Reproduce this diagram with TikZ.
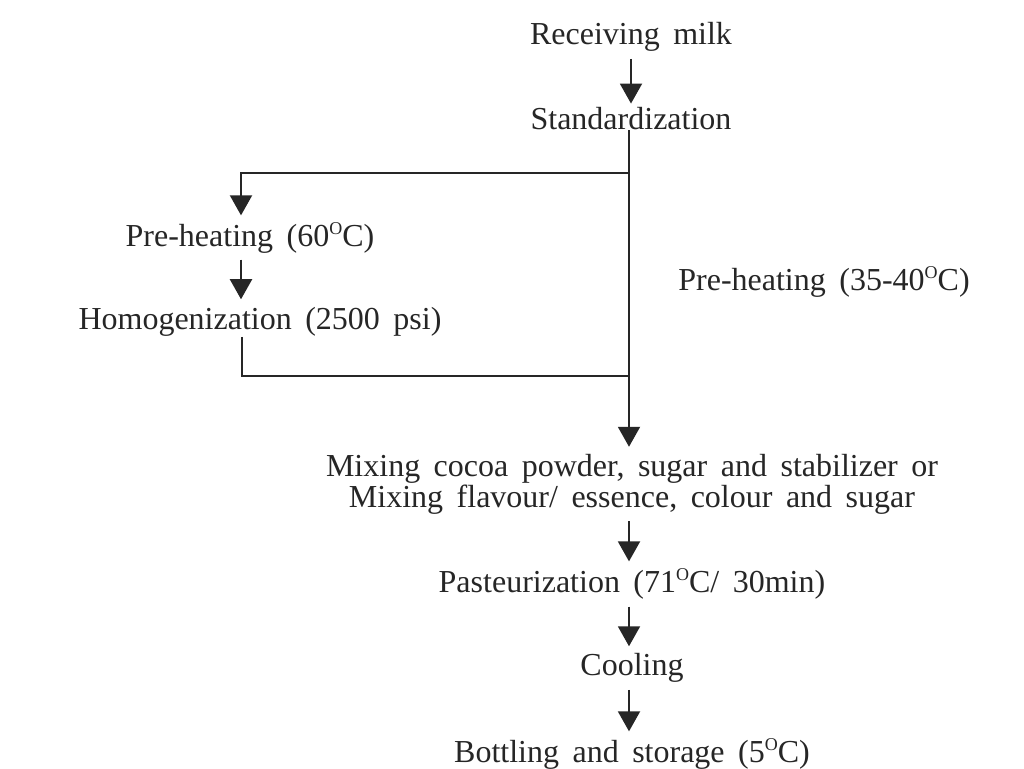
\documentclass[tikz,border=0pt]{standalone}
\usepackage{fontspec}
\setmainfont{Liberation Serif}
\usetikzlibrary{arrows.meta}
\newcommand{\degO}{\raisebox{0.38em}{\fontsize{18}{18}\selectfont O}}
\newcommand{\lblfont}{\fontsize{32}{31}\selectfont\spaceskip=13.5pt\relax}
\begin{document}
\begin{tikzpicture}[x=1pt,y=-1pt,
  lbl/.style={inner sep=0pt,font=\lblfont,text=black!85},
  flow/.style={line width=2pt,draw=black!85,-{Triangle[width=22pt,length=20pt]}},
  wire/.style={line width=2pt,draw=black!85}]
\useasboundingbox[fill=white] (0,0) rectangle (1024,768);
\node[lbl] (rec) at (631,37) {Receiving milk};
\node[lbl] (std) at (631,119) {Standardization};
\node[lbl] (ph60) at (250,238) {Pre-heating (60\degO C)};
\node[lbl] (homo) at (260,322) {Homogenization (2500 psi)};
\node[lbl] (ph35) at (824,282) {Pre-heating (35-40\degO C)};
\node[lbl,align=center] (mix) at (632,484) {Mixing cocoa powder, sugar and stabilizer or\\[0pt]Mixing flavour/ essence, colour and sugar};
\node[lbl] (past) at (632,584) {Pasteurization (71\degO C/ 30min)};
\node[lbl] (cool) at (632,668) {Cooling};
\node[lbl] (bott) at (632,754) {Bottling and storage (5\degO C)};
\coordinate (mainx) at (629,0);
\coordinate (leftx) at (241,0);
\coordinate (j1) at (629,173);
\coordinate (j2) at (629,376);
\coordinate (l2) at (242,376);
% main flow
\draw[flow,shorten <=7pt,shorten >=4pt] (rec.south) -- (std.north);
\draw[flow,shorten >=7pt] (std.south -| mainx) -- (mix.north -| mainx);
% side branch
\draw[flow,shorten >=7pt] (j1) -| (ph60.north -| leftx);
\draw[flow,shorten <=6pt,shorten >=8pt] (ph60.south -| leftx) -- (homo.north -| leftx);
\draw[wire] (homo.south -| l2) -- (l2) -- (j2);
% lower flow
\draw[flow,shorten <=7pt,shorten >=7pt] (mix.south -| mainx) -- (past.north -| mainx);
\draw[flow,shorten <=7pt,shorten >=7pt] (past.south -| mainx) -- (cool.north -| mainx);
\draw[flow,shorten <=7pt,shorten >=7pt] (cool.south -| mainx) -- (bott.north -| mainx);
\end{tikzpicture}
\end{document}
